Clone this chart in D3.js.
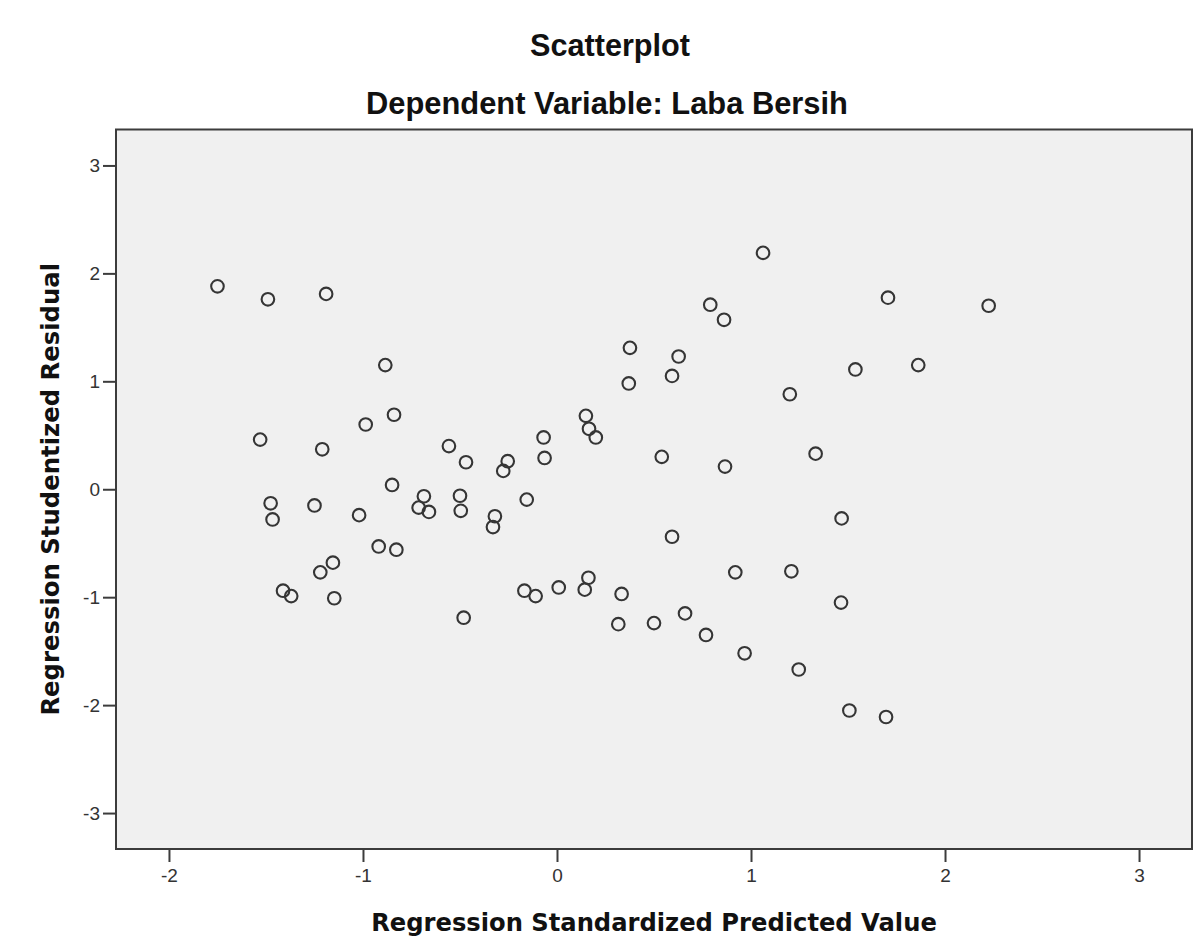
<!DOCTYPE html>
<html>
<head>
<meta charset="utf-8">
<script src="https://cdn.jsdelivr.net/npm/d3@7"></script>
<style>
  html, body { margin: 0; padding: 0; background: #ffffff; }
  svg { display: block; }
</style>
</head>
<body>
<svg id="chart" width="1196" height="943"></svg>
<script>
// ---- Data ----
const predictedValue = [
  -1.75, -1.49, -1.19, -0.885, -0.986, -0.84, -1.53, -1.21, -0.557, -0.85,
  -0.686, -0.713, -0.66, -1.476, -1.466, -1.25, -1.02, -0.469, -0.254, -0.277,
  -0.069, -0.064, -0.50, -0.496, -0.32, -0.33, -0.156, -0.919, -0.828, -1.155,
  -1.22, -1.412, -1.37, -1.148, -0.481, -0.168, -0.11, 0.149, 0.165, 0.20,
  0.54, 0.866, 0.593, 0.919, 0.162, 0.143, 0.009, 0.333, 0.316, 0.50,
  0.66, 0.768, 0.967, 1.062, 0.79, 0.861, 1.706, 1.862, 1.538, 0.376,
  0.627, 0.593, 0.37, 1.20, 1.333, 1.208, 1.464, 1.467, 1.246, 1.507,
  1.696, 2.225
];
const studentizedResidual = [
  1.88, 1.76, 1.81, 1.15, 0.60, 0.69, 0.46, 0.37, 0.40, 0.04,
  -0.065, -0.17, -0.21, -0.13, -0.28, -0.15, -0.24, 0.25, 0.26, 0.17,
  0.48, 0.29, -0.06, -0.20, -0.25, -0.35, -0.096, -0.53, -0.56, -0.68,
  -0.77, -0.94, -0.99, -1.01, -1.19, -0.94, -0.99, 0.68, 0.56, 0.48,
  0.30, 0.21, -0.44, -0.77, -0.82, -0.93, -0.91, -0.97, -1.25, -1.24,
  -1.15, -1.35, -1.52, 2.19, 1.71, 1.57, 1.775, 1.15, 1.11, 1.31,
  1.23, 1.05, 0.98, 0.88, 0.33, -0.76, -1.05, -0.27, -1.67, -2.05,
  -2.11, 1.70
];
const xTicks = [-2, -1, 0, 1, 2, 3];
const yTicks = [-3, -2, -1, 0, 1, 2, 3];
const xDomain = [-2.273, 3.273];
const yDomain = [-3.333, 3.333];
const titleText = "Scatterplot";
const subtitleText = "Dependent Variable: Laba Bersih";
const xLabelText = "Regression Standardized Predicted Value";
const yLabelText = "Regression Studentized Residual";

// ---- Layout ----
const svg = d3.select("#chart");
const plot = { left: 116, right: 1192, top: 129.5, bottom: 849 };

const x = d3.scaleLinear().domain(xDomain).range([plot.left, plot.right]);
const y = d3.scaleLinear().domain(yDomain).range([plot.bottom, plot.top]);

const points = predictedValue.map((v, i) => ({ x: v, y: studentizedResidual[i] }));

// plot background
svg.append("rect")
  .attr("x", plot.left).attr("y", plot.top)
  .attr("width", plot.right - plot.left).attr("height", plot.bottom - plot.top)
  .attr("fill", "#f0f0f0");

// points
svg.append("g").selectAll("circle")
  .data(points)
  .join("circle")
  .attr("cx", d => x(d.x))
  .attr("cy", d => y(d.y))
  .attr("r", 6.3)
  .attr("fill", "none")
  .attr("stroke", "#353535")
  .attr("stroke-width", 2.1);

// frame
svg.append("rect")
  .attr("x", plot.left).attr("y", plot.top)
  .attr("width", plot.right - plot.left).attr("height", plot.bottom - plot.top)
  .attr("fill", "none")
  .attr("stroke", "#3c3c3c")
  .attr("stroke-width", 2);

// axes
const xAxis = d3.axisBottom(x).tickValues(xTicks).tickFormat(d3.format("d"))
  .tickSize(13).tickPadding(7).tickSizeOuter(0);
const yAxis = d3.axisLeft(y).tickValues(yTicks).tickFormat(d3.format("d"))
  .tickSize(13).tickPadding(3).tickSizeOuter(0);

const gx = svg.append("g").attr("transform", `translate(0,${plot.bottom})`).call(xAxis);
const gy = svg.append("g").attr("transform", `translate(${plot.left},0)`).call(yAxis);

[gx, gy].forEach(g => {
  g.select(".domain").remove();
  g.selectAll(".tick line").attr("stroke", "#3c3c3c").attr("stroke-width", 2);
  g.selectAll(".tick text")
    .attr("fill", "#333")
    .style("font-family", "'Liberation Sans', Arial, sans-serif")
    .style("font-size", "19px");
});
// d3 uses unicode minus; reference uses a hyphen
[gx, gy].forEach(g => g.selectAll(".tick text").text(d => String(d)));

// titles
function fitText(sel, targetWidth) {
  const base = 24;
  sel.style("font-size", base + "px");
  const w = sel.node().getComputedTextLength();
  sel.style("font-size", (base * targetWidth / w) + "px");
}

const title = svg.append("text")
  .attr("x", 610).attr("y", 56)
  .attr("text-anchor", "middle")
  .style("font-family", "'Liberation Sans', Arial, sans-serif")
  .style("font-weight", "bold")
  .attr("fill", "#111")
  .text(titleText);
fitText(title, 160);

const subtitle = svg.append("text")
  .attr("x", 607).attr("y", 114)
  .attr("text-anchor", "middle")
  .style("font-family", "'Liberation Sans', Arial, sans-serif")
  .style("font-weight", "bold")
  .attr("fill", "#111")
  .text(subtitleText);
fitText(subtitle, 482);

const xLabel = svg.append("text")
  .attr("x", (plot.left + plot.right) / 2).attr("y", 931)
  .attr("text-anchor", "middle")
  .style("font-family", "'DejaVu Sans', Verdana, sans-serif")
  .style("font-weight", "bold")
  .attr("fill", "#111")
  .text(xLabelText);
fitText(xLabel, 566);

const yLabel = svg.append("text")
  .attr("transform", `translate(59,${(plot.top + plot.bottom) / 2}) rotate(-90)`)
  .attr("text-anchor", "middle")
  .style("font-family", "'DejaVu Sans', Verdana, sans-serif")
  .style("font-weight", "bold")
  .attr("fill", "#111")
  .text(yLabelText);
fitText(yLabel, 453);
</script>
</body>
</html>
